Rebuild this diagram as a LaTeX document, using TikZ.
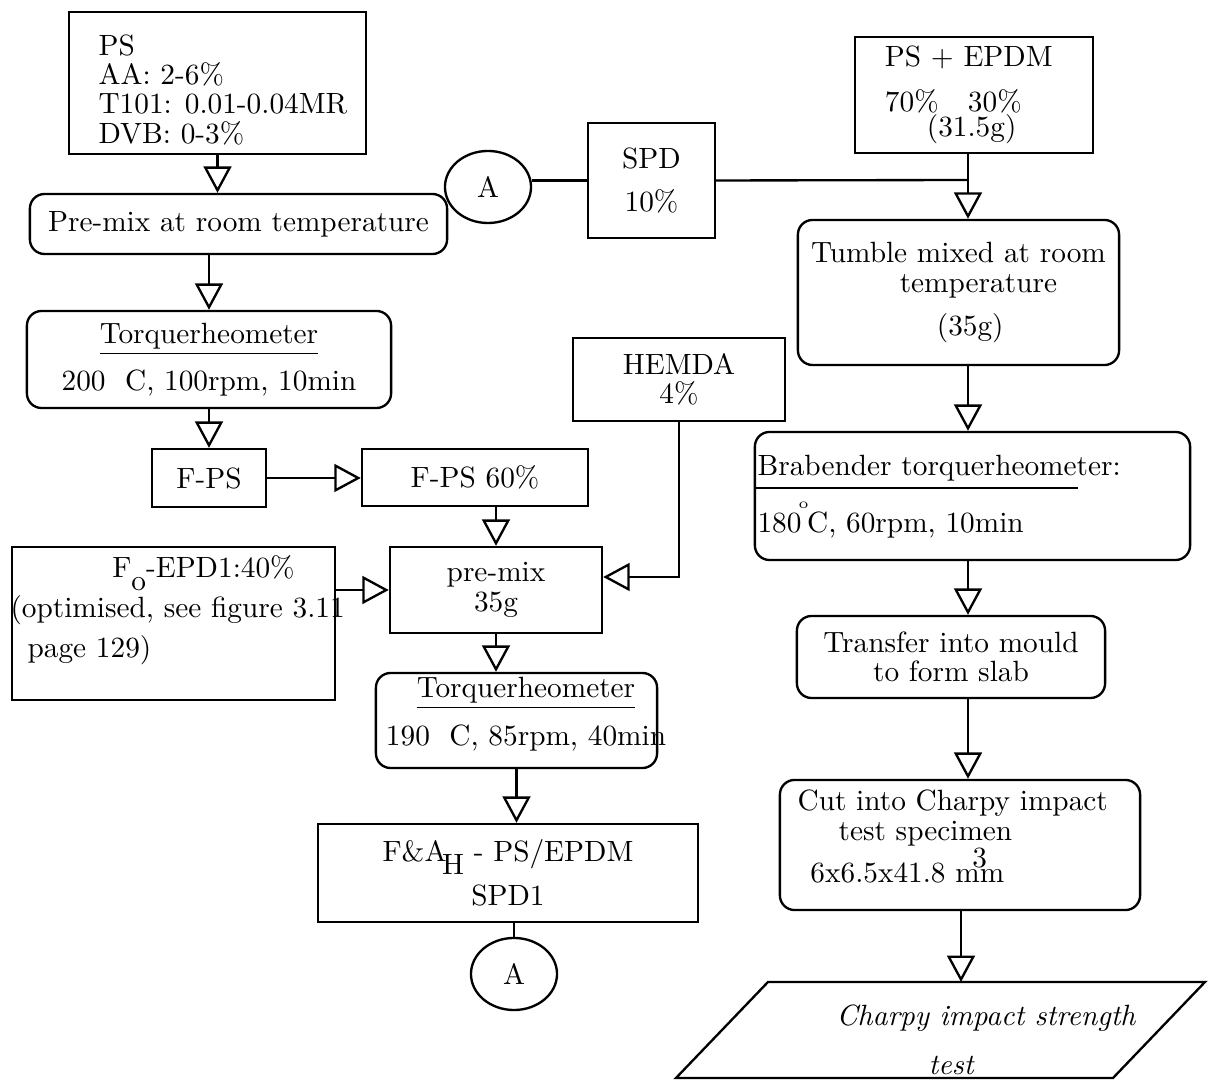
\documentclass[tikz,border=0pt]{standalone}
\usetikzlibrary{arrows.meta,shapes.geometric}

\tikzset{
  box/.style={draw, line width=0.8pt, inner sep=0pt, align=center},
  rbox/.style={box, rounded corners=5pt},
  conn/.style={draw, ellipse, line width=0.8pt, inner sep=0pt,
    minimum width=1.032cm, minimum height=0.864cm},
  flow/.style={line width=0.8pt, -{Triangle[open, length=9pt, width=9.5pt]}},
  link/.style={line width=0.8pt},
  txt/.style={inner sep=0pt, align=left, anchor=north west},
}

\begin{document}
\begin{tikzpicture}[x=0.012cm, y=-0.012cm, font=\fontsize{10}{10}\selectfont]
  \useasboundingbox (0,0) rectangle (1211,1081);

  % left column: functionalised PS
  \node[box, minimum width=3.564cm, minimum height=1.704cm] (ps) at (217.5,83) {};
  \node[txt] (pstxt) at (98,34) {PS\\AA: 2-6\%\\T101: 0.01-0.04MR\\DVB: 0-3\%};
  \node[rbox, minimum width=5.004cm, minimum height=0.72cm] (premixa) at (238.5,224) {Pre-mix at room temperature};
  \node[rbox, minimum width=4.368cm, minimum height=1.164cm] (torque1) at (209,359.5)
    {\underline{Torquerheometer}\\[4pt]200\ \ C, 100rpm, 10min};
  \node[box, minimum width=1.368cm, minimum height=0.696cm] (fps) at (209,478) {F-PS};
  \node[box, minimum width=3.876cm, minimum height=1.836cm] (f0) at (173.5,623.5) {};
  \node[txt] (f0txt) at (10,555)
    {\hspace*{34.7pt}F\smash{\raisebox{-4.5pt}{o}}-EPD1:40\%\\[3.6pt](optimised, see figure 3.11\\[3.6pt]\hspace*{5.8pt}page 129)};

  % middle column: blend and A connectors
  \node[conn] (atop) at (488,187) {A};
  \node[box, minimum width=1.524cm, minimum height=1.38cm] (spd) at (651.5,180.5) {SPD\\[4.6pt]10\%};
  \node[box, minimum width=2.544cm, minimum height=0.996cm] (hemda) at (679,379.5) {HEMDA\\4\%};
  \node[box, minimum width=2.712cm, minimum height=0.684cm] (fps60) at (475,477.5) {F-PS 60\%};
  \node[box, minimum width=2.544cm, minimum height=1.032cm] (premixb) at (496,590) {pre-mix\\35g};
  \node[rbox, minimum width=3.372cm, minimum height=1.14cm] (torque2) at (516.5,720.5) {};
  \node[inner sep=0pt, align=center] (torque2txt) at (526,714)
    {\underline{Torquerheometer}\\[4.3pt]190\ \ C, 85rpm, 40min};
  \node[box, minimum width=4.56cm, minimum height=1.176cm] (fa) at (508,873)
    {F\&A\kern-1.5pt\smash{\raisebox{-4.5pt}{H}}\ - PS/EPDM\\[5pt]SPD1};
  \node[conn] (abot) at (514,974) {A};

  % right column: impact specimens
  \node[box, minimum width=2.856cm, minimum height=1.392cm, text width=2.136cm, align=left] (psepdm) at (974,95)
    {PS + EPDM\\[5.3pt]70\%\quad 30\%\\[-1.2pt]\hspace*{14.3pt}(31.5g)};
  \node[rbox, minimum width=3.852cm, minimum height=1.74cm] (tumble) at (958.5,292.5)
    {Tumble mixed at room\\\hspace*{13.6pt}temperature\\[4.6pt]\hspace*{8pt}(35g)};
  \node[rbox, minimum width=5.22cm, minimum height=1.536cm] (brab) at (972.5,496) {};
  \node[txt] (brabtxt) at (757,454.6)
    {Brabender torquerheometer:\\[9.4pt]180\kern-1pt\smash{\raisebox{8pt}{\tiny o}}\kern-0.5pt C, 60rpm, 10min};
  \draw[link] (755,488) -- (1078,488);
  \node[rbox, minimum width=3.696cm, minimum height=0.984cm] (transfer) at (951,657) {Transfer into mould\\to form slab};
  \node[rbox, minimum width=4.32cm, minimum height=1.56cm] (cut) at (960,845) {};
  \node[txt] (cuttxt) at (797,789.6)
    {Cut into Charpy impact\\\hspace*{14pt}test specimen\\[4.6pt]\hspace*{4.4pt}6x6.5x41.8 m\makebox[0pt]{\smash{\raisebox{5.2pt}{3}}}m};
  \draw[link] (676,1078) -- (768,982) -- (1205,982) -- (1113,1078) -- cycle;
  \coordinate (chtop) at (961,982);
  \node[inner sep=0pt, align=center, font=\fontsize{10}{10}\selectfont\itshape] (charpy) at (986,1040)
    {Charpy impact strength\\[6.7pt]test\hspace*{23.8pt}};

  % connectors
  \draw[flow] (ps.south) -- (ps.south |- premixa.north);
  \draw[flow] (torque1.north |- premixa.south) -- (torque1.north);
  \draw[flow] (torque1.south) -- (fps.north);
  \draw[flow] (fps.east) -- (fps.east -| fps60.west);
  \draw[flow] (premixb.north |- fps60.south) -- (premixb.north);
  \draw[flow] (f0.east |- premixb.west) -- (premixb.west);
  \draw[flow] (hemda.south) |- ([yshift=0.156cm]premixb.east);
  \draw[flow] (premixb.south) -- (premixb.south |- torque2.north);
  \draw[flow] (torque2.south) -- (torque2.south |- fa.north);
  \draw[link] (fa.south -| abot.north) -- (abot.north);

  \draw[link] (atop.east |- spd.west) -- (spd.west);
  \coordinate (join) at (968,180);
  \draw[link] (spd.east) -- (join);
  \draw[flow] (join |- psepdm.south) -- (join |- tumble.north);
  \draw[flow] (join |- tumble.south) -- (join |- brab.north);
  \draw[flow] (join |- brab.south) -- (join |- transfer.north);
  \draw[flow] (join |- transfer.south) -- (join |- cut.north);
  \draw[flow] (cut.south -| chtop) -- (chtop);
\end{tikzpicture}
\end{document}
